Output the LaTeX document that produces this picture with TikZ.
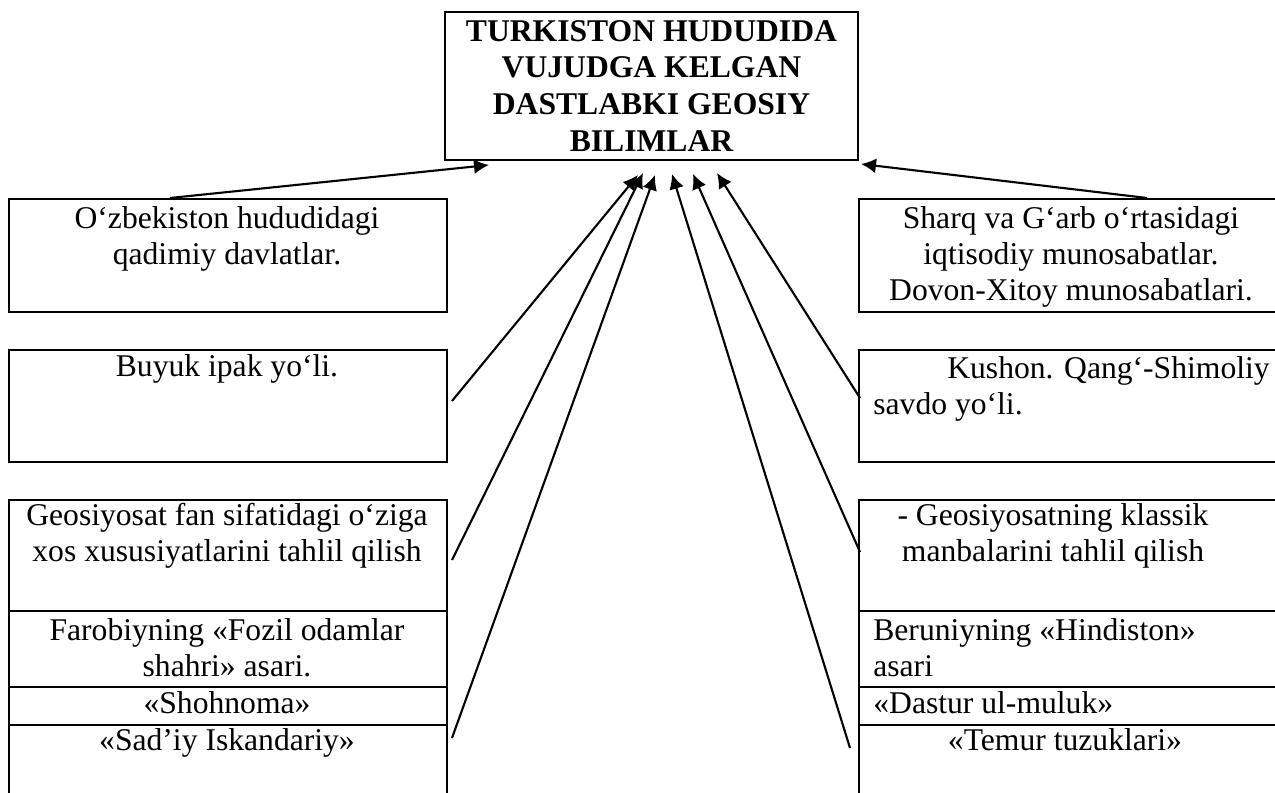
\documentclass[tikz,border=0pt]{standalone}
\usepackage{fontspec}
\setmainfont{Liberation Serif}
\usetikzlibrary{arrows.meta}

\tikzset{
  cell/.style={draw, line width=1.3pt, anchor=north west, inner sep=0pt, minimum width=8.76cm},
  txt/.style={align=center, inner sep=0pt, font=\fontsize{18}{20.5}\selectfont},
}

\begin{document}
\begin{tikzpicture}[x=0.02cm, y=-0.02cm]
\clip (0,0) rectangle (1275,793);

\node[draw, line width=1.3pt, minimum width=8.26cm, minimum height=2.96cm, align=center,
      font=\fontsize{18}{21}\selectfont\bfseries] (top) at (651.5,86)
  {TURKISTON HUDUDIDA\\VUJUDGA KELGAN\\DASTLABKI GEOSIY\\BILIMLAR};

% left column
\node[cell, minimum height=2.26cm] (L1) at (8,198) {};
\node[cell, minimum height=2.24cm] (L2) at (8,349) {};
\node[cell, minimum height=2.22cm] (L3) at (8,499) {};
\node[cell, minimum height=1.52cm] (L4) at (8,610) {};
\node[cell, minimum height=0.76cm] (L5) at (8,686) {};
\node[cell, minimum height=2.2cm] (L6) at (8,724) {};

\node[txt, anchor=north] (l1) at (227,206) {O‘zbekiston hududidagi\\qadimiy davlatlar.};
\node[txt, anchor=base] (l2) at (227,377) {Buyuk ipak yo‘li.};
\node[txt, anchor=north] (l3) at (227,503) {Geosiyosat fan sifatidagi o‘ziga\\xos xususiyatlarini tahlil qilish};
\node[txt, anchor=north] (l4) at (227,618) {Farobiyning «Fozil odamlar\\shahri» asari.};
\node[txt, anchor=base] (l5) at (227,713) {«Shohnoma»};
\node[txt, anchor=base] (l6) at (227,750) {«Sad’iy Iskandariy»};

% right column
\node[cell, minimum height=2.26cm] (R1) at (858,198) {};
\node[cell, minimum height=2.24cm] (R2) at (858,349) {};
\node[cell, minimum height=2.22cm] (R3) at (858,499) {};
\node[cell, minimum height=1.52cm] (R4) at (858,610) {};
\node[cell, minimum height=0.76cm] (R5) at (858,686) {};
\node[cell, minimum height=2.2cm] (R6) at (858,724) {};

\node[txt, anchor=north] (r1) at (1071,206) {Sharq va G‘arb o‘rtasidagi\\iqtisodiy munosabatlar.\\Dovon-Xitoy munosabatlari.};
\node[txt, align=left, anchor=north west] (r2) at (873,356) {\hspace*{1.48cm}Kushon. Qang‘-Shimoliy\\savdo yo‘li.};
\node[txt, anchor=north] (r3) at (1053,503) {- Geosiyosatning klassik\\manbalarini tahlil qilish};
\node[txt, align=left, anchor=north west] (r4) at (873,618) {Beruniyning «Hindiston»\\asari};
\node[txt, anchor=base west] (r5) at (873,713) {«Dastur ul-muluk»};
\node[txt, anchor=base] (r6) at (1065,750) {«Temur tuzuklari»};

% arrow ends
\coordinate (a1) at (170,198);  \coordinate (h1) at (489,165);
\coordinate (a2) at (1147,198); \coordinate (h2) at (861,164);
\coordinate (a3) at (452,401);  \coordinate (h3) at (638,175);
\coordinate (a4) at (452,560);  \coordinate (h4) at (643,173);
\coordinate (a5) at (452,738);  \coordinate (h5) at (655,175);
\coordinate (a6) at (860,398);  \coordinate (h6) at (717,173);
\coordinate (a7) at (860,552);  \coordinate (h7) at (693,174);
\coordinate (a8) at (850,748);  \coordinate (h8) at (672,174);

\path[draw,line width=1.2pt,->,>={Latex[length=3mm,width=3mm]}] (a1) -- (h1);
\path[draw,line width=1.2pt,->,>={Latex[length=3mm,width=3mm]}] (a2) -- (h2);
\path[draw,line width=1.2pt,->,>={Latex[length=3mm,width=3mm]}] (a3) -- (h3);
\path[draw,line width=1.2pt,->,>={Latex[length=3mm,width=3mm]}] (a4) -- (h4);
\path[draw,line width=1.2pt,->,>={Latex[length=3mm,width=3mm]}] (a5) -- (h5);
\path[draw,line width=1.2pt,->,>={Latex[length=3mm,width=3mm]}] (a6) -- (h6);
\path[draw,line width=1.2pt,->,>={Latex[length=3mm,width=3mm]}] (a7) -- (h7);
\path[draw,line width=1.2pt,->,>={Latex[length=3mm,width=3mm]}] (a8) -- (h8);
\end{tikzpicture}
\end{document}
